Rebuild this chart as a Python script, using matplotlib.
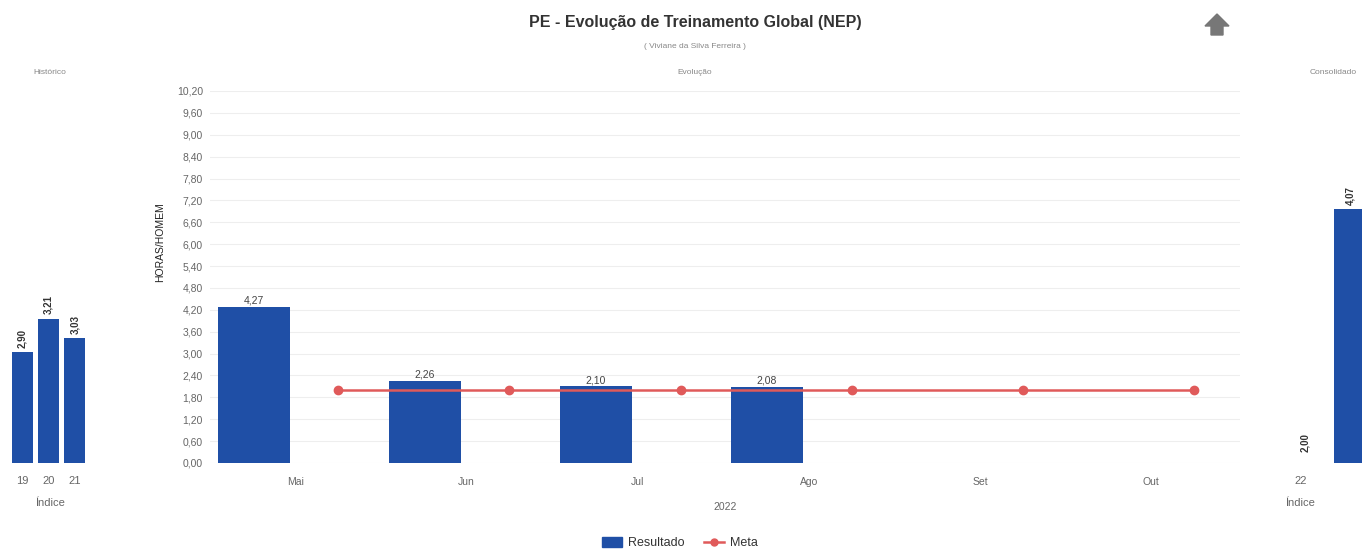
import numpy as np
import matplotlib.pyplot as plt
from matplotlib.patches import Polygon
from matplotlib.lines import Line2D
from matplotlib.patches import Patch

plt.rcParams['font.family'] = ['Liberation Sans', 'DejaVu Sans']

# data
months = ['Mai', 'Jun', 'Jul', 'Ago', 'Set', 'Out']
resultado = [4.27, 2.26, 2.10, 2.08]
meta = [2.00, 2.00, 2.00, 2.00, 2.00, 2.00]
hist_years = ['19', '20', '21']
hist_vals = [2.90, 3.21, 3.03]
cons_year = '22'
cons_meta = 2.00
cons_result = 4.07

BLUE = '#1F4FA6'
RED = '#E05A5A'
GRAY = '#666666'

def br(v):
    return f'{v:.2f}'.replace('.', ',')

W, H = 1362, 551
fig = plt.figure(figsize=(W / 100, H / 100), dpi=100)

def px_axes(x0, y0, x1, y1):
    # pixel box (top-left origin) -> figure axes
    return fig.add_axes([x0 / W, 1 - y1 / H, (x1 - x0) / W, (y1 - y0) / H])

# ---- main chart
ax = px_axes(210, 91, 1240, 463)
x = np.arange(len(months))
xb = x[:len(resultado)] - 0.245
xm = x + 0.25
ax.bar(xb, resultado, width=0.42, color=BLUE, zorder=2)
ax.plot(xm, meta, color=RED, lw=1.8, marker='o', ms=6, zorder=3)
for xi, v in zip(xb, resultado):
    ax.annotate(br(v), (xi, v), xytext=(0, 1), textcoords='offset points',
                ha='center', va='bottom', fontsize=7.5, color='#444444')
ax.set_xlim(-0.5, 5.52)
ax.set_ylim(0, 10.2)
ax.set_yticks(np.arange(0, 10.21, 0.6))
ax.set_yticklabels([br(t) for t in np.arange(0, 10.21, 0.6)])
ax.set_xticks(x)
ax.set_xticklabels(months)
ax.tick_params(length=0, labelsize=7.5, colors=GRAY, pad=5)
ax.tick_params(axis='x', pad=10)
ax.grid(axis='y', color='#eeeeee', lw=0.8, zorder=0)
for s in ax.spines.values():
    s.set_visible(False)
ax.set_xlabel('2022', fontsize=7.5, color=GRAY, labelpad=11)
fig.text(160 / W, 1 - 242 / H, 'HORAS/HOMEM', rotation=90, fontsize=7.5,
         ha='center', va='center', color='#222222')

# ---- histórico
axh = px_axes(5, 91, 95, 463)
xh = np.arange(len(hist_years))
axh.bar(xh, hist_vals, width=0.8, color=BLUE)
for xi, v in zip(xh, hist_vals):
    axh.annotate(br(v), (xi, v), xytext=(0, 3), textcoords='offset points',
                 ha='center', va='bottom', rotation=90, fontsize=7,
                 fontweight='bold', color='#333333')
axh.set_xlim(-0.67, 2.77)
axh.set_ylim(1.89, 5.29)
axh.set_yticks([])
axh.set_xticks(xh)
axh.set_xticklabels(hist_years)
axh.tick_params(length=0, labelsize=8, colors=GRAY, pad=9)
axh.set_xlabel('Índice', fontsize=8, color=GRAY, labelpad=9)
for s in axh.spines.values():
    s.set_visible(False)

# ---- consolidado
axc = px_axes(1265, 91, 1372, 463)
axc.bar([0, 1], [cons_meta, cons_result], width=0.71, color=['#E8E8E8', BLUE],
        bottom=0)
for xi, v, dy in zip([0, 1], [cons_meta, cons_result], [8, 3]):
    axc.annotate(br(v), (xi, max(v, 2.0)), xytext=(0, dy), textcoords='offset points',
                 ha='center', va='bottom', rotation=90, fontsize=7,
                 fontweight='bold', color='#333333')
axc.set_xlim(-0.89, 1.49)
axc.set_ylim(2.0, 5.03)
axc.set_yticks([])
axc.set_xticks([-0.1])
axc.set_xticklabels([cons_year])
axc.tick_params(length=0, labelsize=8, colors=GRAY, pad=9)
for s in axc.spines.values():
    s.set_visible(False)
fig.text(1300 / W, 1 - 503 / H, 'Índice', ha='center', va='center',
         fontsize=8, color=GRAY)

# ---- titles
fig.text(695 / W, 1 - 22 / H, 'PE - Evolução de Treinamento Global (NEP)',
         ha='center', va='center', fontsize=11.5, fontweight='bold', color='#333333')
fig.text(695 / W, 1 - 47 / H, '( Viviane da Silva Ferreira )',
         ha='center', va='center', fontsize=6, color='#888888')
fig.text(695 / W, 1 - 72 / H, 'Evolução', ha='center', va='center',
         fontsize=6, color='#888888')
fig.text(50 / W, 1 - 72 / H, 'Histórico', ha='center', va='center',
         fontsize=6, color='#888888')
fig.text(1333 / W, 1 - 72 / H, 'Consolidado', ha='center', va='center',
         fontsize=6, color='#888888')

# up arrow
arrow = [(1217, 14), (1229, 26), (1223, 26), (1223, 35), (1211, 35),
         (1211, 26), (1205, 26)]
fig.patches.append(Polygon([(a / W, 1 - b / H) for a, b in arrow], closed=True,
                           transform=fig.transFigure, color='#777777'))

# legend
handles = [Patch(color=BLUE),
           Line2D([], [], color=RED, lw=1.8, marker='o', ms=5)]
fig.legend(handles, ['Resultado', 'Meta'], loc='center', ncol=2,
           bbox_to_anchor=(680 / W, 1 - 543 / H), frameon=False, fontsize=9,
           handlelength=1.6, handleheight=0.9, columnspacing=1.5,
           handletextpad=0.5, labelcolor='#333333')

fig.savefig('out.png', dpi=100)
